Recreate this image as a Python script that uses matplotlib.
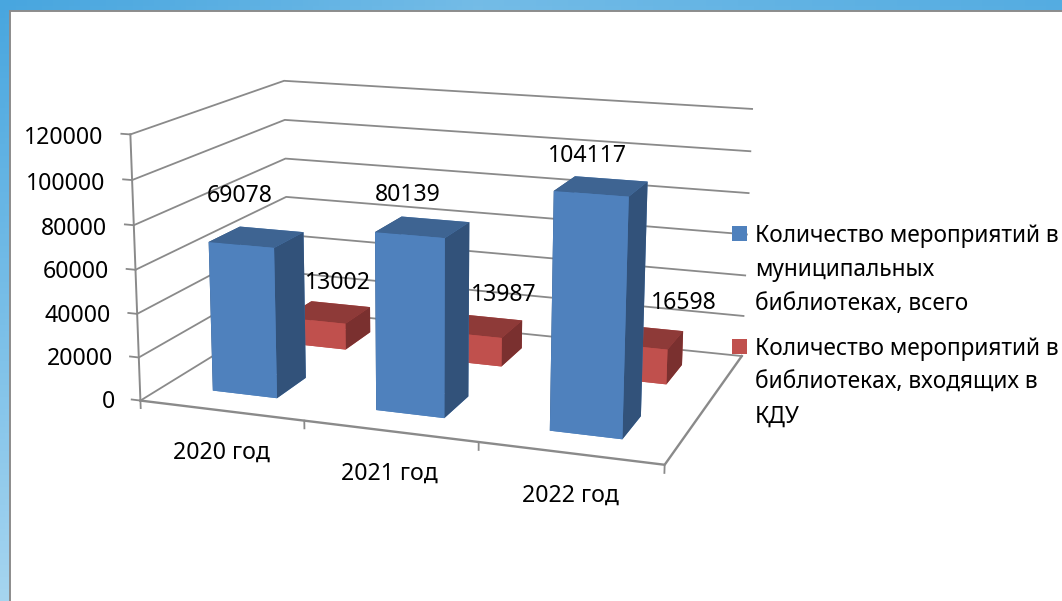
import numpy as np
import matplotlib
matplotlib.use('Agg')
import matplotlib.pyplot as plt
from matplotlib.patches import Rectangle

categories = ['2020 год', '2021 год', '2022 год']
total_events = [69078, 80139, 104117]
kdu_events = [13002, 13987, 16598]
y_ticks = [0, 20000, 40000, 60000, 80000, 100000, 120000]
legend_labels = ['Количество мероприятий в\nмуниципальных\nбиблиотеках, всего',
                 'Количество мероприятий в\nбиблиотеках, входящих в\nКДУ']

# label places in picture pixels
total_label_px = [(240, 196), (408, 195), (587, 156)]
kdu_label_px = [(338, 283), (504, 295), (684, 303)]
cat_label_px = [(221, 453), (389, 474), (570, 496)]
tick_label_px = [(115, 402), (113, 359), (111, 316), (109, 272), (107, 229), (105, 184), (103, 138)]
legend_box_px = [(732, 226), (732, 339)]
legend_text_px = [(755, 224), (755, 337)]

W, H = 1062, 601
FS = 16.6
GREY = '#8a8a8a'

plt.rcParams['font.family'] = ['Noto Sans', 'DejaVu Sans']
fig = plt.figure(figsize=(W/100, H/100), dpi=100)


def fx(x):
    return x/W


def fy(y):
    return 1 - y/H


# slide background behind the white panel
bg = fig.add_axes([0, 0, 1, 1], zorder=-1)
across = np.interp(np.linspace(0, 1, 200), [0, .15, .45, .75, 1], [0, .1, .35, .2, .1])
down = np.interp(np.linspace(0, 1, 100), [0, 1], [0, .75])
shade = across[None, :] + down[:, None]
c0 = np.array([0x48, 0xa6, 0xdf])/255
c1 = np.array([0xc4, 0xe4, 0xf5])/255
bg.imshow(c0 + (c1 - c0)*shade[:, :, None], extent=(0, W, H, 0), aspect='auto')
bg.add_patch(Rectangle((9.5, 10.5), W + 20, H + 20, facecolor='white', edgecolor='#8c8c8c', lw=1.4))
bg.set_xlim(0, W)
bg.set_ylim(H, 0)
bg.axis('off')

# camera fitted to the picture
ax = fig.add_axes([fx(112.80), fy(591.85), 662.9/W, 662.9/H], projection='3d', computed_zorder=False)
ax.set_xlim(0, 3)
ax.set_ylim(0, 1)
ax.set_zlim(0, 120000)
ax.view_init(13.9607, -70.5359, -0.2053)
ax.set_proj_type('persp', focal_length=0.5342)
ax.set_box_aspect((1.9836, 1.3247, 1))
ax.set_axis_off()
ax.patch.set_visible(False)

# walls
for t in y_ticks:
    ax.plot([0, 0, 3], [0, 1, 1], [t, t, t], color=GREY, lw=1.3, zorder=1)
    ax.plot([-0.055, 0], [0, 0], [t, t], color=GREY, lw=1.3, zorder=1)
ax.plot([0, 0], [0, 0], [0, 120000], color=GREY, lw=1.4, zorder=1)

# floor edges
ax.plot([0, 3, 3], [0, 0, 1], [0, 0, 0], color=GREY, lw=1.7, zorder=2)
for i in range(4):
    ax.plot([i, i], [0, 0], [0, -3500], color=GREY, lw=1.3, zorder=2)

# faces: bottom, top, front, back, left, right
blue = ['#4f81bd', '#3e6492', '#4f81bd', '#4f81bd', '#32527a', '#32527a']
red = ['#c0504d', '#8e3a38', '#c0504d', '#c0504d', '#7a302f', '#7a302f']
for i in range(len(categories)):
    ax.bar3d(i + .3, .65, 0, .4, .2, kdu_events[i], color=red, shade=False, zorder=3, linewidth=0)
    ax.bar3d(i + .3, .15, 0, .4, .2, total_events[i], color=blue, shade=False, zorder=4, linewidth=0)

# value labels
for v, (x, y) in zip(total_events, total_label_px):
    fig.text(fx(x), fy(y), str(v), fontsize=FS, ha='center', va='center')
for v, (x, y) in zip(kdu_events, kdu_label_px):
    fig.text(fx(x), fy(y), str(v), fontsize=FS, ha='center', va='center')

# axis labels
for c, (x, y) in zip(categories, cat_label_px):
    fig.text(fx(x), fy(y), c, fontsize=FS, ha='center', va='center')
for t, (x, y) in zip(y_ticks, tick_label_px):
    fig.text(fx(x), fy(y), str(t), fontsize=FS, ha='right', va='center')

# legend
for col, lab, (bx, by), (tx, ty) in zip(['#4f81bd', '#c0504d'], legend_labels, legend_box_px, legend_text_px):
    fig.add_artist(Rectangle((fx(bx), fy(by + 15)), 15/W, 15/H, transform=fig.transFigure,
                             facecolor=col, edgecolor='none', zorder=5))
    fig.text(fx(tx), fy(ty), lab, fontsize=16.35, ha='left', va='top', linespacing=1.56)

fig.savefig('out.png', dpi=100)
